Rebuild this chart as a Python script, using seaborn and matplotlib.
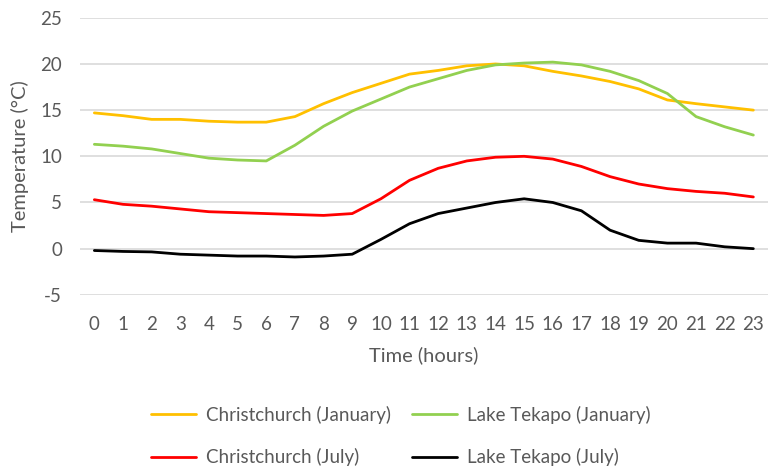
import matplotlib
matplotlib.use("Agg")
import matplotlib.pyplot as plt
import seaborn as sns
import pandas as pd

# データ
hours = list(range(24))
chch_jan = [14.7, 14.4, 14.0, 14.0, 13.8, 13.7, 13.7, 14.3, 15.7, 16.9, 17.9, 18.9,
            19.3, 19.8, 20.0, 19.8, 19.2, 18.7, 18.1, 17.3, 16.1, 15.7, 15.35, 15.0]
tekapo_jan = [11.3, 11.1, 10.8, 10.3, 9.8, 9.6, 9.5, 11.2, 13.25, 14.9, 16.2, 17.5,
              18.4, 19.3, 19.9, 20.1, 20.2, 19.9, 19.2, 18.2, 16.8, 14.3, 13.2, 12.3]
chch_jul = [5.3, 4.8, 4.6, 4.3, 4.0, 3.9, 3.8, 3.7, 3.6, 3.8, 5.4, 7.4,
            8.7, 9.5, 9.9, 10.0, 9.7, 8.9, 7.8, 7.0, 6.5, 6.2, 6.0, 5.6]
tekapo_jul = [-0.2, -0.3, -0.35, -0.6, -0.7, -0.8, -0.8, -0.9, -0.8, -0.6, 1.0, 2.7,
              3.8, 4.4, 5.0, 5.4, 5.0, 4.1, 2.0, 0.9, 0.6, 0.6, 0.2, 0.0]

series_names = ['Christchurch (January)', 'Lake Tekapo (January)',
                'Christchurch (July)', 'Lake Tekapo (July)']
series_values = [chch_jan, tekapo_jan, chch_jul, tekapo_jul]
colors = ['#FFC000', '#92D050', '#FF0000', '#000000']
y_ticks = [-5, 0, 5, 10, 15, 20, 25]

# ロング形式に変換
df = pd.DataFrame({
    'hour': hours * len(series_names),
    'temp': sum(series_values, []),
    'series': [n for n in series_names for _ in hours],
})

sns.set_theme(style='white')
plt.rcParams['font.family'] = ['Lato', 'DejaVu Sans']
plt.rcParams['axes.unicode_minus'] = False

fig = plt.figure(figsize=(7.77, 4.68), dpi=100)
ax = fig.add_axes([0.103, 0.370, 0.885, 0.592])

sns.lineplot(data=df, x='hour', y='temp', hue='series', hue_order=series_names,
             palette=dict(zip(series_names, colors)), linewidth=2, ax=ax, legend=False)

# 軸の設定
ax.set_xlim(-0.5, 23.5)
ax.set_ylim(-5, 25)
ax.set_yticks(y_ticks)
ax.set_xticks(hours)
ax.set_xticklabels([str(h) for h in hours])
ax.grid(axis='y', color='#d9d9d9', linewidth=1.2)
ax.set_axisbelow(True)
for s in ax.spines.values():
    s.set_visible(False)
ax.tick_params(axis='both', length=0, labelsize=13.5, labelcolor='#595959')
ax.tick_params(axis='y', pad=13)
ax.tick_params(axis='x', pad=15)
ax.set_xlabel('Time (hours)', fontsize=14.5, color='#595959', labelpad=10)
ax.set_ylabel('Temperature (°C)', fontsize=14.5, color='#595959', labelpad=8)

# 凡例（2行2列、列方向に埋まるため順序を調整）
handles = [plt.Line2D([], [], color=c, linewidth=2) for c in colors]
order = [0, 2, 1, 3]
fig.legend([handles[i] for i in order], [series_names[i] for i in order],
           loc='lower center', bbox_to_anchor=(0.516, -0.032), ncol=2, frameon=False,
           fontsize=13.5, labelcolor='#595959', handlelength=2.4, handletextpad=0.5,
           columnspacing=1.15, labelspacing=1.3)

plt.savefig('out.png', dpi=100)
plt.close()
